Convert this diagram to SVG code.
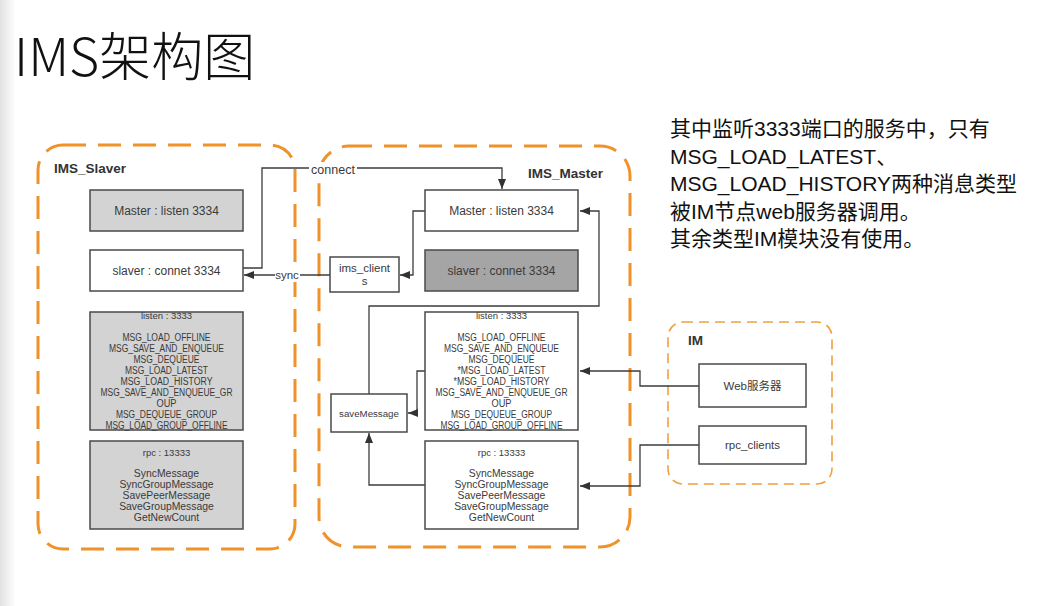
<svg xmlns="http://www.w3.org/2000/svg" width="1058" height="606" viewBox="0 0 1058 606">
<style>
text{font-family:"Liberation Sans","Noto Sans CJK SC",sans-serif;fill:#3a3a3a}
.cont{fill:none;stroke:#f0922a;stroke-width:3;stroke-dasharray:23 12}
.cont2{fill:none;stroke:#f0a040;stroke-width:1.6;stroke-dasharray:10 6}
.box{stroke:#4a4a4a;stroke-width:1.5}
.w{fill:#fff}.g{fill:#d3d3d3}.dg{fill:#a5a5a5}
.lbl{font-size:12px;text-anchor:middle}
.sm{font-size:10px;text-anchor:middle}
.tt{font-size:13.5px;font-weight:bold;fill:#333}
.ln{fill:none;stroke:#3c3c3c;stroke-width:1.3;marker-end:url(#ah)}
.note{font-size:21px;fill:#111}
</style>
<defs>
<marker id="ah" markerWidth="10" markerHeight="8" refX="10" refY="4" orient="auto" markerUnits="userSpaceOnUse"><path d="M0,0 L10,4 L0,8 z" fill="#333"/></marker>
<linearGradient id="edge" x1="0" x2="1" y1="0" y2="0"><stop offset="0" stop-color="#e2e2e2"/><stop offset="1" stop-color="#fff"/></linearGradient>
</defs>
<rect width="1058" height="606" fill="#fff"/>
<rect width="16" height="606" fill="url(#edge)"/>
<text x="14" y="76" style="font-family:'Noto Sans CJK SC',sans-serif;font-size:52px;font-weight:300;fill:#111">IMS架构图</text>
<g id="note">
<text class="note" x="670" y="136">其中监听3333端口的服务中，只有</text>
<text class="note" x="670" y="163.5">MSG_LOAD_LATEST、</text>
<text class="note" x="670" y="191">MSG_LOAD_HISTORY两种消息类型</text>
<text class="note" x="670" y="218.5">被IM节点web服务器调用。</text>
<text class="note" x="670" y="246">其余类型IM模块没有使用。</text>
</g>
<g id="IMS_Slaver">
<rect class="cont" x="38" y="145" width="257" height="404" rx="25"/>
<text class="tt" x="54" y="173">IMS_Slaver</text>
</g>
<g id="IMS_Master">
<rect class="cont" x="319" y="146" width="311" height="401" rx="30"/>
<text class="tt" x="528" y="178">IMS_Master</text>
</g>
<g id="IM">
<rect class="cont2" x="668" y="322" width="164" height="162" rx="15"/>
<text class="tt" x="688" y="345">IM</text>
</g>
<g id="connectors">
<path class="ln" d="M243,268 H262 V168 H502 V189"/>
<rect x="309" y="162" width="48" height="14" fill="#fff"/>
<text x="333" y="174" style="font-size:12.5px;text-anchor:middle">connect</text>
<path class="ln" d="M330,275 H244"/>
<rect x="275" y="268" width="25" height="14" fill="#fff"/>
<text x="287" y="279" style="font-size:11.5px;text-anchor:middle">sync</text>
<path class="ln" d="M425,211 H413 V275 H400"/>
<path class="ln" d="M369,394 V306 H599 V211 H580"/>
<path class="ln" d="M425,371 H417 V413 H408"/>
<path class="ln" d="M425,485 H369 V433"/>
<path class="ln" d="M699,386 H640 V371 H580"/>
<path class="ln" d="M699,445 H640 V486 H580"/>
</g>
<g id="s_master_listen">
<rect class="box g" x="90" y="190" width="153" height="41"/>
<text class="lbl" x="166.5" y="215">Master : listen 3334</text>
</g>
<g id="s_slaver_connet">
<rect class="box w" x="90" y="250" width="153" height="41"/>
<text class="lbl" x="166.5" y="274.5">slaver : connet 3334</text>
</g>
<g id="s_listen_3333">
<rect class="box g" x="90" y="312" width="153" height="118"/>
<text class="sm" x="166.5" y="319" style="font-size:9.5px">listen : 3333</text>
<text class="sm" x="166.5" y="340.5" textLength="88" lengthAdjust="spacingAndGlyphs">MSG_LOAD_OFFLINE</text>
<text class="sm" x="166.5" y="351.5" textLength="115" lengthAdjust="spacingAndGlyphs">MSG_SAVE_AND_ENQUEUE</text>
<text class="sm" x="166.5" y="362.5" textLength="66" lengthAdjust="spacingAndGlyphs">MSG_DEQUEUE</text>
<text class="sm" x="166.5" y="374" textLength="83" lengthAdjust="spacingAndGlyphs">MSG_LOAD_LATEST</text>
<text class="sm" x="166.5" y="385" textLength="92" lengthAdjust="spacingAndGlyphs">MSG_LOAD_HISTORY</text>
<text class="sm" x="166.5" y="396" textLength="132" lengthAdjust="spacingAndGlyphs">MSG_SAVE_AND_ENQUEUE_GR</text>
<text class="sm" x="166.5" y="407" textLength="20" lengthAdjust="spacingAndGlyphs">OUP</text>
<text class="sm" x="166.5" y="418" textLength="101" lengthAdjust="spacingAndGlyphs">MSG_DEQUEUE_GROUP</text>
<text class="sm" x="166.5" y="429" textLength="122" lengthAdjust="spacingAndGlyphs">MSG_LOAD_GROUP_OFFLINE</text>
</g>
<g id="s_rpc_13333">
<rect class="box g" x="90" y="441" width="153" height="88"/>
<text class="sm" x="166.5" y="455.5" style="font-size:9.5px">rpc : 13333</text>
<text class="sm" x="166.5" y="476.5" style="font-size:10.4px">SyncMessage</text>
<text class="sm" x="166.5" y="487.5" style="font-size:10.4px">SyncGroupMessage</text>
<text class="sm" x="166.5" y="499" style="font-size:10.4px">SavePeerMessage</text>
<text class="sm" x="166.5" y="510" style="font-size:10.4px">SaveGroupMessage</text>
<text class="sm" x="166.5" y="521" style="font-size:10.4px">GetNewCount</text>
</g>
<g id="m_master_listen">
<rect class="box w" x="425" y="190" width="153" height="41"/>
<text class="lbl" x="501.5" y="215">Master : listen 3334</text>
</g>
<g id="m_slaver_connet">
<rect class="box dg" x="425" y="250" width="153" height="41"/>
<text class="lbl" x="501.5" y="274.5">slaver : connet 3334</text>
</g>
<g id="ims_clients">
<rect class="box w" x="330" y="257" width="69" height="35"/>
<text class="lbl" x="364.5" y="271.5" style="font-size:11.5px">ims_client</text>
<text class="lbl" x="364.5" y="285" style="font-size:11.5px">s</text>
</g>
<g id="saveMessage">
<rect class="box w" x="331" y="394" width="76" height="38"/>
<text class="sm" x="369" y="416.5" style="font-size:9.7px">saveMessage</text>
</g>
<g id="m_listen_3333">
<rect class="box w" x="425" y="312" width="153" height="118"/>
<text class="sm" x="501.5" y="319" style="font-size:9.5px">listen : 3333</text>
<text class="sm" x="501.5" y="340.5" textLength="88" lengthAdjust="spacingAndGlyphs">MSG_LOAD_OFFLINE</text>
<text class="sm" x="501.5" y="351.5" textLength="115" lengthAdjust="spacingAndGlyphs">MSG_SAVE_AND_ENQUEUE</text>
<text class="sm" x="501.5" y="362.5" textLength="66" lengthAdjust="spacingAndGlyphs">MSG_DEQUEUE</text>
<text class="sm" x="501.5" y="374" textLength="88" lengthAdjust="spacingAndGlyphs">*MSG_LOAD_LATEST</text>
<text class="sm" x="501.5" y="385" textLength="96" lengthAdjust="spacingAndGlyphs">*MSG_LOAD_HISTORY</text>
<text class="sm" x="501.5" y="396" textLength="132" lengthAdjust="spacingAndGlyphs">MSG_SAVE_AND_ENQUEUE_GR</text>
<text class="sm" x="501.5" y="407" textLength="20" lengthAdjust="spacingAndGlyphs">OUP</text>
<text class="sm" x="501.5" y="418" textLength="101" lengthAdjust="spacingAndGlyphs">MSG_DEQUEUE_GROUP</text>
<text class="sm" x="501.5" y="429" textLength="122" lengthAdjust="spacingAndGlyphs">MSG_LOAD_GROUP_OFFLINE</text>
</g>
<g id="m_rpc_13333">
<rect class="box w" x="425" y="441" width="153" height="88"/>
<text class="sm" x="501.5" y="455.5" style="font-size:9.5px">rpc : 13333</text>
<text class="sm" x="501.5" y="476.5" style="font-size:10.4px">SyncMessage</text>
<text class="sm" x="501.5" y="487.5" style="font-size:10.4px">SyncGroupMessage</text>
<text class="sm" x="501.5" y="499" style="font-size:10.4px">SavePeerMessage</text>
<text class="sm" x="501.5" y="510" style="font-size:10.4px">SaveGroupMessage</text>
<text class="sm" x="501.5" y="521" style="font-size:10.4px">GetNewCount</text>
</g>
<g id="web_server">
<rect class="box w" x="699" y="364" width="107" height="43"/>
<text class="lbl" x="752.5" y="390" style="font-size:11.5px">Web服务器</text>
</g>
<g id="rpc_clients">
<rect class="box w" x="699" y="426" width="107" height="38"/>
<text class="lbl" x="752.5" y="449" style="font-size:11.5px">rpc_clients</text>
</g>
</svg>
